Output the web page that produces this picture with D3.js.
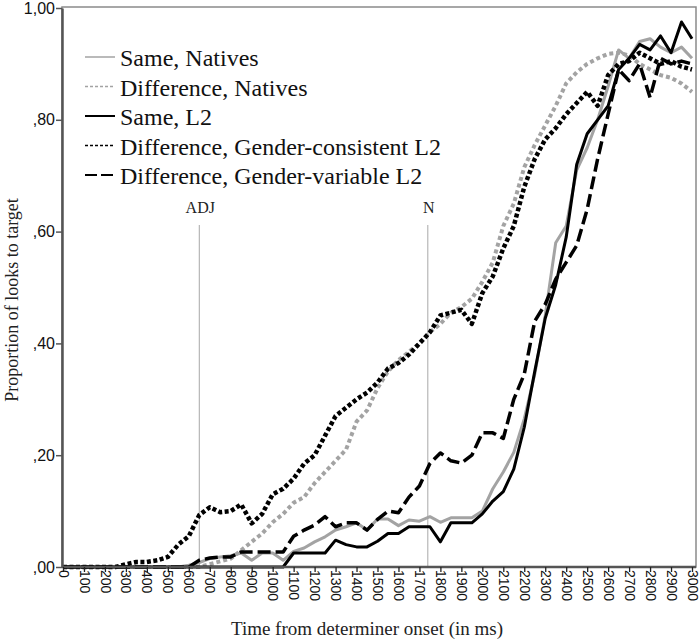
<!DOCTYPE html>
<html><head><meta charset="utf-8">
<script src="https://cdn.jsdelivr.net/npm/d3@7"></script>
<style>html,body{margin:0;padding:0;background:#fff;}svg{display:block;}</style>
</head><body>
<svg id="chart" width="700" height="643"></svg>
<script>
const times = [0,50,100,150,200,250,300,350,400,450,500,550,600,650,700,750,800,850,900,950,
 1000,1050,1100,1150,1200,1250,1300,1350,1400,1450,1500,1550,1600,1650,1700,1750,1800,1850,1900,1950,
 2000,2050,2100,2150,2200,2250,2300,2350,2400,2450,2500,2550,2600,2650,2700,2750,2800,2850,2900,2950,3000];

const sameNatives = [0,0,0,0,0,0,0,0,0,0,0,0,0.003,0.008,0.015,0.018,0.02,0.025,0.012,0.025,
 0.025,0.012,0.028,0.034,0.045,0.054,0.066,0.072,0.079,0.066,0.086,0.086,0.074,0.084,0.082,0.09,0.08,0.088,0.088,0.088,
 0.1,0.14,0.17,0.205,0.265,0.345,0.45,0.58,0.61,0.71,0.75,0.8,0.86,0.925,0.91,0.94,0.945,0.93,0.92,0.93,0.91];

const diffNatives = [0,0,0,0,0,0,0,0,0,0,0,0,0,0,0.005,0.01,0.015,0.03,0.045,0.06,
 0.08,0.095,0.115,0.125,0.15,0.17,0.19,0.21,0.26,0.28,0.32,0.35,0.37,0.385,0.4,0.42,0.435,0.455,0.465,0.48,
 0.51,0.545,0.61,0.65,0.715,0.755,0.79,0.825,0.865,0.885,0.9,0.91,0.918,0.92,0.915,0.9,0.89,0.88,0.875,0.865,0.85];

const sameL2 = [0,0,0,0,0,0,0,0,0,0,0,0,0,0,0,0,0,0,0,0,
 0,0,0.025,0.025,0.025,0.025,0.048,0.04,0.036,0.036,0.046,0.06,0.06,0.072,0.072,0.072,0.045,0.079,0.079,0.079,
 0.095,0.118,0.135,0.175,0.25,0.35,0.445,0.505,0.59,0.72,0.775,0.8,0.825,0.89,0.91,0.935,0.925,0.95,0.92,0.975,0.945];

const diffConsistentL2 = [0,0,0,0,0,0,0.005,0.009,0.009,0.012,0.018,0.04,0.055,0.093,0.107,0.098,0.1,0.112,0.078,0.095,
 0.13,0.14,0.158,0.185,0.2,0.235,0.27,0.285,0.3,0.312,0.33,0.355,0.365,0.38,0.4,0.42,0.45,0.455,0.46,0.435,
 0.49,0.52,0.57,0.61,0.68,0.73,0.765,0.785,0.81,0.83,0.85,0.825,0.88,0.9,0.905,0.92,0.91,0.9,0.905,0.895,0.89];

const diffVariableL2 = [0,0,0,0,0,0,0,0,0,0,0,0,0,0.012,0.016,0.018,0.018,0.027,0.027,0.027,
 0.027,0.027,0.055,0.066,0.075,0.09,0.072,0.079,0.079,0.066,0.085,0.1,0.097,0.125,0.145,0.185,0.204,0.19,0.186,0.2,
 0.24,0.24,0.23,0.3,0.345,0.44,0.47,0.515,0.545,0.575,0.64,0.73,0.81,0.89,0.87,0.9,0.84,0.91,0.9,0.905,0.9];

const seriesNames = ["Same, Natives","Difference, Natives","Same, L2","Difference, Gender-consistent L2","Difference, Gender-variable L2"];
const seriesValues = [sameNatives, diffNatives, sameL2, diffConsistentL2, diffVariableL2];

const xTickValues = [0,100,200,300,400,500,600,700,800,900,1000,1100,1200,1300,1400,1500,1600,1700,1800,1900,2000,2100,2200,2300,2400,2500,2600,2700,2800,2900,3000];
const yTickValues = [0,0.2,0.4,0.6,0.8,1];
const yTickLabels = [",00",",20",",40",",60",",80","1,00"];
const markers = [{label:"ADJ", t:650},{label:"N", t:1740}];

const styles = [
  {color:"#a3a3a3", width:3, dash:null, lw:1.5, ldash:null},
  {color:"#a3a3a3", width:4, dash:"4,3", lw:1.5, ldash:"3,2"},
  {color:"#000", width:3, dash:null, lw:2, ldash:null},
  {color:"#000", width:4.5, dash:"4,2.5", lw:1.5, ldash:"3,2"},
  {color:"#000", width:3.5, dash:"13,5", lw:2, ldash:"12,4"}
];

const svg = d3.select("#chart");
const serif = "'Liberation Serif','Times New Roman',serif";
const sans = "'Liberation Sans',Arial,sans-serif";

const x = d3.scaleLinear().domain([0,3000]).range([63,692]);
const y = d3.scaleLinear().domain([0,1]).range([567,8]);

svg.append("rect").attr("x",62).attr("y",7).attr("width",634).attr("height",560)
  .attr("fill","none").attr("stroke","#8a8a8a").attr("stroke-width",1.5);

markers.forEach(m=>{
  svg.append("line").attr("x1",x(m.t)).attr("x2",x(m.t)).attr("y1",225).attr("y2",567)
    .attr("stroke","#a8a8a8").attr("stroke-width",1);
  svg.append("text").attr("x",x(m.t)+1).attr("y",213).attr("text-anchor","middle")
    .attr("font-family",serif).attr("font-size",16).attr("fill","#222").text(m.label);
});

const line = d3.line().x((d,i)=>x(times[i])).y(d=>y(d));
seriesValues.forEach((vals,k)=>{
  const s = styles[k];
  const p = svg.append("path").datum(vals).attr("d",line)
    .attr("fill","none").attr("stroke",s.color).attr("stroke-width",s.width)
    .attr("stroke-linejoin","round");
  if(s.dash) p.attr("stroke-dasharray",s.dash);
});

const yAxis = d3.axisLeft(y).tickValues(yTickValues).tickFormat((d,i)=>yTickLabels[i]).tickSize(6).tickSizeOuter(0);
const gy = svg.append("g").attr("transform","translate(62,0)").call(yAxis);
gy.select(".domain").attr("stroke","#555").attr("stroke-width",2.5);
gy.selectAll(".tick line").attr("stroke","#555").attr("stroke-width",1.5);
gy.selectAll(".tick text").attr("font-family",sans).attr("font-size",16).attr("fill","#111").attr("x",-7);

const xAxis = d3.axisBottom(x).tickValues(xTickValues).tickFormat(d=>d).tickSize(5).tickSizeOuter(0);
const gx = svg.append("g").attr("transform","translate(0,567)").call(xAxis);
gx.select(".domain").attr("stroke","#555").attr("stroke-width",2.5).attr("d","M62,0H696");
gx.selectAll(".tick line").attr("stroke","#222").attr("stroke-width",1.3);
gx.selectAll(".tick text").attr("font-family",sans).attr("font-size",14).attr("fill","#111")
  .attr("transform","rotate(90)").attr("x",3).attr("y",0).attr("dy","0.35em").attr("text-anchor","start");

svg.append("text").attr("x",367).attr("y",635).attr("text-anchor","middle")
  .attr("font-family",serif).attr("font-size",19).attr("fill","#222").text("Time from determiner onset (in ms)");
svg.append("text").attr("transform","translate(18,300) rotate(-90)").attr("text-anchor","middle")
  .attr("font-family",serif).attr("font-size",18).attr("fill","#222").text("Proportion of looks to target");

const lg = svg.append("g");
seriesNames.forEach((n,k)=>{
  const by = 66 + k*29.5;
  const s = styles[k];
  const l = lg.append("line").attr("x1",85).attr("x2",115).attr("y1",by-9).attr("y2",by-9)
    .attr("stroke",s.color).attr("stroke-width",s.lw);
  if(s.ldash) l.attr("stroke-dasharray",s.ldash);
  lg.append("text").attr("x",120).attr("y",by).attr("font-family",serif).attr("font-size",24)
    .attr("fill","#111").text(n);
});
</script>
</body></html>
